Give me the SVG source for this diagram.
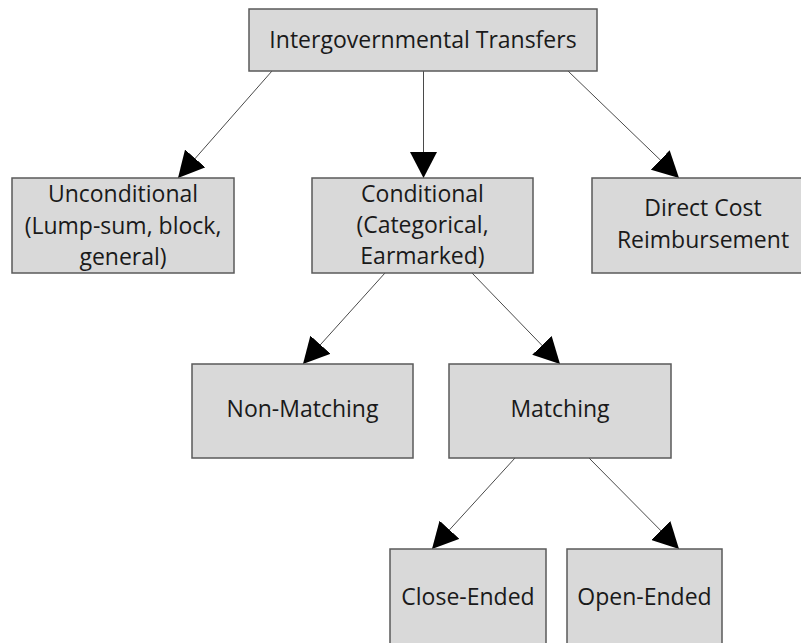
<svg xmlns="http://www.w3.org/2000/svg" width="801" height="643" viewBox="0 0 801 643">
<style>
.box{fill:#d9d9d9;stroke:#5a5a5a;stroke-width:1.5}
.lbl{font-family:"Open Sans","Liberation Sans",sans-serif;font-size:23px;fill:#1a1a1a;text-anchor:middle}
.edge{stroke:#4a4a4a;stroke-width:1;fill:none;marker-end:url(#arr)}
</style>
<defs>
<marker id="arr" viewBox="0 0 26 27" refX="26" refY="13.5" markerWidth="26" markerHeight="27" markerUnits="userSpaceOnUse" orient="auto">
<path d="M0,0 L26,13.5 L0,27 Z" fill="#000"/>
</marker>
</defs>
<rect width="801" height="643" fill="#fff"/>
<g id="connectors">
<line class="edge" x1="272" y1="71" x2="178" y2="178"/>
<line class="edge" x1="423.5" y1="71" x2="423.5" y2="178"/>
<line class="edge" x1="568" y1="71" x2="679" y2="178"/>
<line class="edge" x1="385" y1="273" x2="303" y2="364"/>
<line class="edge" x1="472" y1="273" x2="560" y2="364"/>
<line class="edge" x1="515" y1="458" x2="432" y2="549"/>
<line class="edge" x1="589" y1="458" x2="679" y2="549"/>
</g>
<g id="n-top">
<rect class="box" x="249" y="9" width="348" height="62"/>
<text class="lbl" x="423" y="48">Intergovernmental Transfers</text>
</g>
<g id="n-unconditional">
<rect class="box" x="12" y="178" width="222" height="95"/>
<text class="lbl" x="123" y="202">Unconditional</text>
<text class="lbl" x="123" y="234">(Lump-sum, block,</text>
<text class="lbl" x="123" y="265">general)</text>
</g>
<g id="n-conditional">
<rect class="box" x="312" y="178" width="221" height="95"/>
<text class="lbl" x="422.5" y="202">Conditional</text>
<text class="lbl" x="422.5" y="233">(Categorical,</text>
<text class="lbl" x="422.5" y="264">Earmarked)</text>
</g>
<g id="n-direct">
<rect class="box" x="592" y="178" width="222" height="95"/>
<text class="lbl" x="703" y="216">Direct Cost</text>
<text class="lbl" x="703" y="248">Reimbursement</text>
</g>
<g id="n-nonmatching">
<rect class="box" x="192" y="364" width="221" height="94"/>
<text class="lbl" x="302.5" y="417">Non-Matching</text>
</g>
<g id="n-matching">
<rect class="box" x="449" y="364" width="222" height="94"/>
<text class="lbl" x="560" y="417">Matching</text>
</g>
<g id="n-close">
<rect class="box" x="390" y="549" width="156" height="110"/>
<text class="lbl" x="468" y="605">Close-Ended</text>
</g>
<g id="n-open">
<rect class="box" x="567" y="549" width="155" height="110"/>
<text class="lbl" x="644.5" y="605">Open-Ended</text>
</g>
</svg>
